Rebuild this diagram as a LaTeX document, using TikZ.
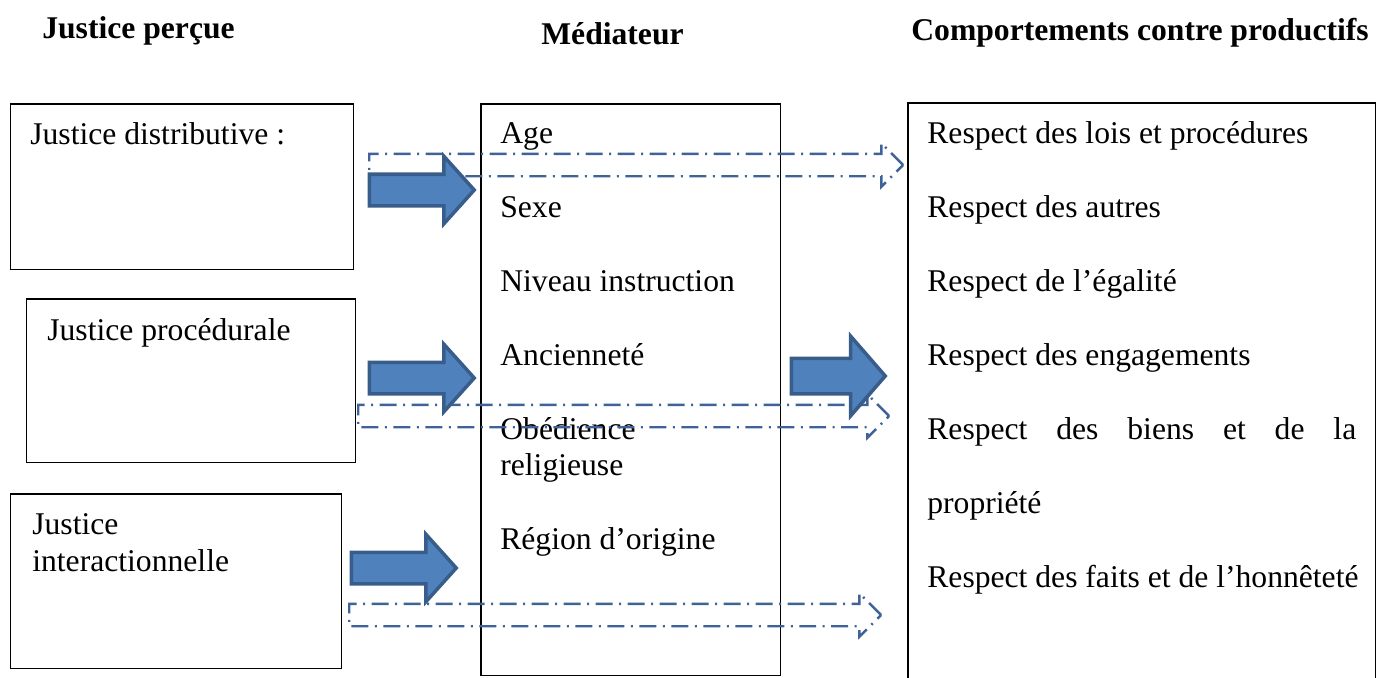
\documentclass[tikz,border=0pt]{standalone}
\usepackage{fontspec}
\setmainfont{Liberation Serif}
\usetikzlibrary{shapes.arrows}
\definecolor{arrowfill}{HTML}{4F81BD}
\definecolor{arrowline}{HTML}{385D8A}
\definecolor{linkline}{HTML}{3F6298}

\begin{document}
\begin{tikzpicture}[
    x=0.02cm, y=-0.02cm,
    every node/.style={font=\fontsize{18}{22}\selectfont, inner sep=0pt},
    box/.style={draw, line width=0.85pt, anchor=north west},
    title/.style={font=\fontsize{18}{22}\selectfont\bfseries, anchor=base west},
    txt/.style={anchor=base west},
    bluearrow/.style={single arrow, draw=arrowline, fill=arrowfill, line width=2pt,
                      single arrow head extend=0.36cm, single arrow tip angle=96,
                      inner ysep=0.28cm, anchor=tail},
    linkarrow/.style={single arrow, draw=linkline, line width=1.35pt,
                      dash pattern=on 0.34cm off 0.13cm on 0.04cm off 0.13cm,
                      single arrow head extend=0.21cm, inner ysep=0.2cm, anchor=tail}
]
    \useasboundingbox (0,0) rectangle (1378,677);

    % Column titles
    \node[title] (tperc) at (42, 38)  {Justice perçue};
    \node[title] (tmed)  at (541, 44) {Médiateur};
    \node[title] (tcomp) at (911, 40) {Comportements contre productifs};

    % Boxes
    \node[box, minimum width=6.86cm, minimum height=3.32cm] (dist)  at (10, 103) {};
    \node[box, minimum width=6.58cm, minimum height=3.28cm] (proc)  at (26, 298) {};
    \node[box, minimum width=6.62cm, minimum height=3.5cm]  (inter) at (10, 493) {};
    \node[box, minimum width=6cm,    minimum height=11.44cm] (med)  at (480, 103) {};
    \node[box, minimum width=9.36cm, minimum height=12.4cm] (comp)  at (907, 102) {};

    % Perceived justice
    \node[txt] (ldist)   at (30, 144) {Justice distributive :};
    \node[txt] (lproc)   at (47, 340) {Justice procédurale};
    \node[txt] (linter1) at (32, 534) {Justice};
    \node[txt] (linter2) at (32, 571) {interactionnelle};

    % Mediator list
    \node[txt] (mage)  at (500, 143) {Age};
    \node[txt] (msexe) at (500, 217) {Sexe};
    \node[txt] (mniv)  at (500, 291) {Niveau instruction};
    \node[txt] (manc)  at (500, 365) {Ancienneté};
    \node[txt] (mobe1) at (500, 439) {Obédience};
    \node[txt] (mobe2) at (500, 475) {religieuse};
    \node[txt] (mreg)  at (500, 549) {Région d’origine};

    % Behaviour list
    \node[txt] (rlois) at (927, 143) {Respect des lois et procédures};
    \node[txt] (raut)  at (927, 217) {Respect des autres};
    \node[txt] (regal) at (927, 291) {Respect de l’égalité};
    \node[txt] (reng)  at (927, 365) {Respect des engagements};
    \node[txt] (rbien) at (927, 439) {\makebox[8.58cm][s]{Respect des biens et de la}};
    \node[txt] (rprop) at (927, 513) {propriété};
    \node[txt] (rfait) at (927, 587) {Respect des faits et de l’honnêteté};

    % Dash-dot direct links
    \node[linkarrow, minimum height=10.68cm] (k1) at (368, 165) {};
    \node[linkarrow, minimum height=10.62cm] (k2) at (357, 416) {};
    \node[linkarrow, minimum height=10.64cm] (k3) at (348, 615) {};

    % Block arrows
    \node[bluearrow, minimum height=2.1cm] (a1) at (367.5, 190) {};
    \node[bluearrow, minimum height=2.1cm] (a2) at (367.5, 378) {};
    \node[bluearrow, minimum height=2.1cm] (a3) at (349.5, 568) {};
    \node[bluearrow, minimum height=1.88cm, single arrow head extend=0.44cm,
          inner ysep=0.32cm, single arrow tip angle=98] (a4) at (789.5, 376) {};
\end{tikzpicture}
\end{document}
